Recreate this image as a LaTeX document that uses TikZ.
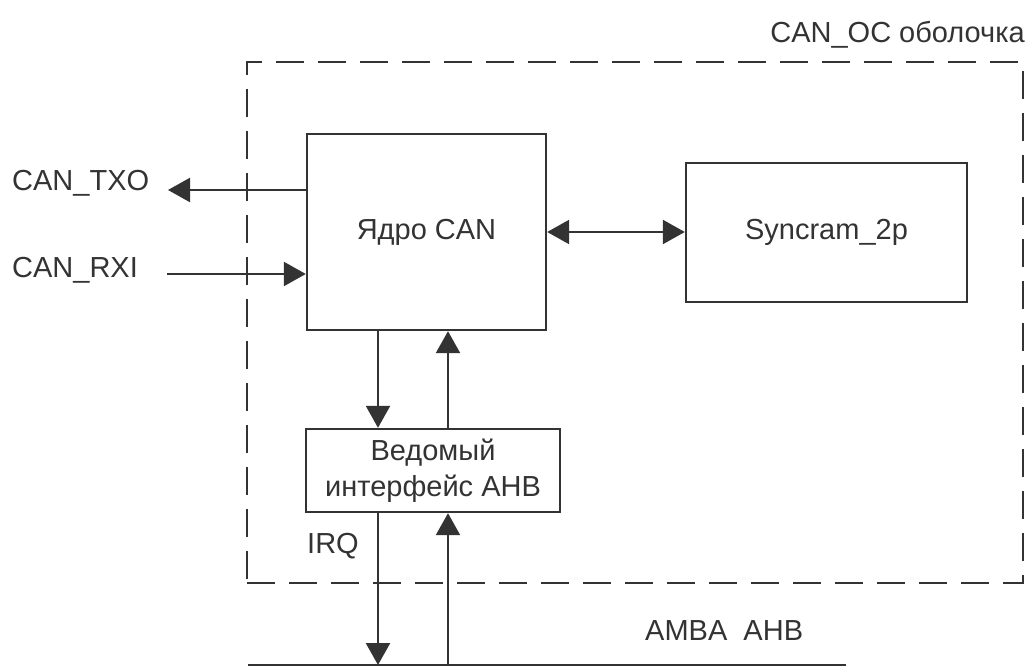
\documentclass[tikz,border=0pt]{standalone}
\usepackage{fontspec}
\setmainfont{Liberation Sans}
\usetikzlibrary{arrows.meta}
\definecolor{ink}{HTML}{333333}
\begin{document}
\begin{tikzpicture}[x=1pt,y=-1pt,
  every node/.style={font=\fontsize{29}{36}\selectfont, text=ink},
  block/.style={draw=ink, line width=2.4pt, inner sep=0pt, rectangle},
  tipA/.style={},
  conn/.style={draw=ink, line width=2.4pt, -{Triangle[length=22pt,width=24pt]}},
  both/.style={draw=ink, line width=2.4pt, {Triangle[length=22pt,width=24pt]}-{Triangle[length=22pt,width=24pt]}},
  shell/.style={draw=ink, line width=2.4pt, dash pattern=on 28pt off 14pt, inner sep=0pt, rectangle},
  lbl/.style={inner sep=0pt}]
\useasboundingbox (0,0) rectangle (1029,666);
\node[shell, minimum width=776pt, minimum height=521pt] (wrap) at (635,322.5) {};
\node[block, minimum width=239pt, minimum height=196pt] (core) at (426.5,232) {Ядро CAN};
\node[block, minimum width=281pt, minimum height=139pt] (sync) at (826.5,232.5) {Syncram\_2p};
\node[block, minimum width=254pt, minimum height=83pt, align=center] (ved) at (433,470.5) {Ведомый\\интерфейс AHB};
\coordinate (tx) at (168,190);
\coordinate (rx) at (167,274);
\coordinate (xa) at (378,0);
\coordinate (xb) at (448,0);
\coordinate (busL) at (248,665);
\coordinate (busR) at (846,665);
\draw[conn] (core.west |- tx) -- (tx);
\draw[conn] (rx) -- (rx -| core.west);
\draw[both] (core.east) -- (core.east -| sync.west);
\draw[conn] (core.south -| xa) -- (ved.north -| xa);
\draw[conn] (ved.north -| xb) -- (core.south -| xb);
\draw[conn] (ved.south -| xa) -- (busL -| xa);
\draw[conn] (busL -| xb) -- (ved.south -| xb);
\draw[draw=ink, line width=2.4pt] (busL) -- (busR);
\node[lbl, anchor=base west] (ltx) at (12,191) {CAN\_TXO};
\node[lbl, anchor=base west] (lrx) at (12,277) {CAN\_RXI};
\node[lbl, anchor=base west] (irq) at (307,553) {IRQ};
\node[lbl, anchor=base west] (amba) at (645,640) {AMBA\ \ AHB};
\node[lbl, anchor=base east] (title) at (1025,43) {CAN\_OC оболочка};
\end{tikzpicture}
\end{document}
